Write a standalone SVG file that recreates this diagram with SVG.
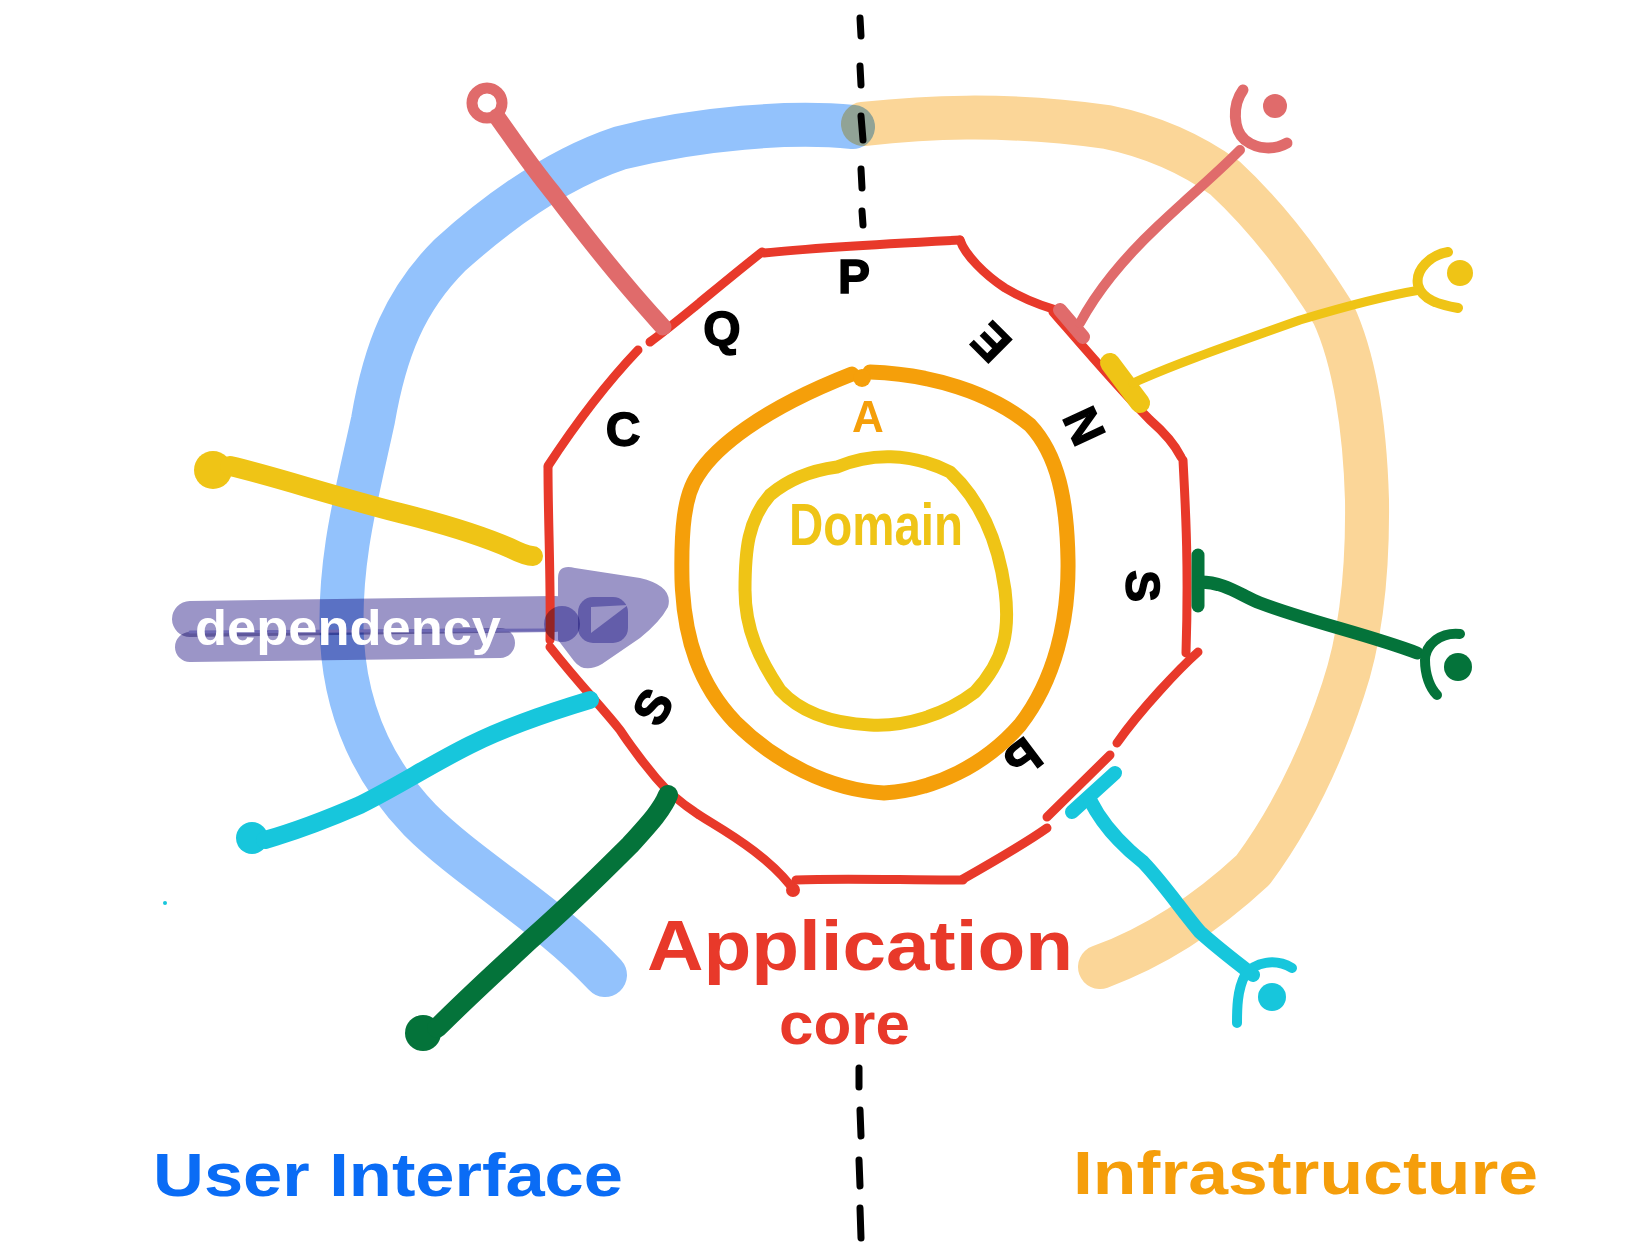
<svg xmlns="http://www.w3.org/2000/svg" width="1650" height="1258" viewBox="0 0 1650 1258">
<style>
.hl{fill:none;stroke-linecap:round;stroke-linejoin:round;mix-blend-mode:multiply}
.red{fill:none;stroke:#E8392A;stroke-width:9;stroke-linecap:round;stroke-linejoin:round}
.ln{fill:none;stroke-linecap:round;stroke-linejoin:round}
.dash{stroke:#000;stroke-width:7;stroke-linecap:round}
.port{font-family:"Liberation Sans","DejaVu Sans",sans-serif;font-weight:900;font-size:48px;fill:#000;text-anchor:middle;dominant-baseline:central;stroke:#000;stroke-width:1.5}
.hand{font-family:"Liberation Sans",Arial,sans-serif;font-weight:bold}
</style>
<rect x="0" y="0" width="1650" height="1258" fill="#fff"/>

<g id="user-interface-layer">
<path class="hl" stroke="#93C2FC" stroke-width="44" d="M853,127 C790,121 700,128 620,148 C560,168 500,210 450,255 C405,300 385,350 373,420 C358,490 338,560 342,640 C346,710 372,770 420,820 C470,870 550,915 605,975"/>
<text class="hand" x="153" y="1196" font-size="62" fill="#0A6CF5" textLength="470" lengthAdjust="spacingAndGlyphs">User Interface</text>
</g>

<g id="infrastructure-layer">
<path class="hl" stroke="#FBD698" stroke-width="44" d="M863,124 C920,118 1000,112 1107,127 C1160,138 1200,160 1225,178 C1265,215 1300,260 1333,313 C1355,360 1365,430 1367,500 C1368,580 1360,640 1343,690 C1320,760 1290,820 1253,870 C1210,910 1160,945 1100,967"/>
<text class="hand" x="1073" y="1194" font-size="62" fill="#F59E0B" textLength="465" lengthAdjust="spacingAndGlyphs">Infrastructure</text>
</g>

<g id="divider">
<line class="dash" x1="860" y1="18" x2="861" y2="36"/>
<line class="dash" x1="860" y1="66" x2="861" y2="85"/>
<line class="dash" x1="861" y1="116" x2="863" y2="140"/>
<line class="dash" x1="861" y1="169" x2="862" y2="188"/>
<line class="dash" x1="862" y1="211" x2="863" y2="225"/>
<line class="dash" x1="859" y1="1068" x2="859" y2="1087"/>
<line class="dash" x1="860" y1="1110" x2="861" y2="1136"/>
<line class="dash" x1="859" y1="1160" x2="860" y2="1186"/>
<line class="dash" x1="860" y1="1208" x2="861" y2="1238"/>
</g>

<g id="dependency-arrow">
<g style="mix-blend-mode:multiply">
<path class="hl" stroke="#9B95C7" stroke-width="36" d="M190,619 L555,614"/>
<path class="hl" stroke="#9B95C7" stroke-width="30" d="M190,647 L500,643"/>
<path fill="#9B95C7" d="M558,578 Q558,564 575,568 L640,578 Q674,586 668,607 Q660,622 640,638 L602,664 Q584,674 574,661 L558,640 Z"/>
</g>
<line x1="190" y1="632" x2="548" y2="630" stroke="#6E69B4" stroke-width="3" stroke-linecap="round"/>
<text class="hand" x="195" y="645" font-size="50" fill="#fff" textLength="306" lengthAdjust="spacingAndGlyphs">dependency</text>
</g>

<g id="application-core">
<path class="red" d="M764,253 C820,247 900,243 960,240"/>
<path class="red" stroke-width="13" d="M960,240 C965,255 985,275 1005,288 C1025,300 1040,305 1053,309"/>
<path class="red" d="M1053,312 C1080,343 1120,390 1150,420 C1165,433 1175,445 1181,457"/>
<path class="red" stroke-width="13" d="M1183,460 C1185,500 1189,560 1186,653"/>
<path class="red" d="M1198,652 C1180,668 1140,710 1117,743"/>
<path class="red" d="M1110,755 L1047,817"/>
<path class="red" d="M1047,828 C1030,840 1000,858 963,879"/>
<path class="red" d="M963,880 C900,880 840,878 796,880"/>
<circle cx="793" cy="890" r="7" fill="#E8392A"/>
<path class="red" d="M790,885 C770,860 740,840 712,823 C690,810 670,795 656,778 C645,765 630,745 620,730 C600,705 580,685 550,647"/>
<path class="red" d="M550,640 C551,580 548,520 548,468"/>
<path class="red" d="M548,466 C565,440 600,390 638,350"/>
<path class="red" d="M650,342 C680,320 720,285 762,252"/>
<text class="hand" x="647" y="970" font-size="70" fill="#E8392A" textLength="426" lengthAdjust="spacingAndGlyphs">Application</text>
<text class="hand" x="779" y="1044" font-size="60" fill="#E8392A" textLength="131" lengthAdjust="spacingAndGlyphs">core</text>
</g>

<g id="dependency-marker">
<circle cx="562" cy="624" r="18" fill="#A39FDA" style="mix-blend-mode:multiply"/>
<rect x="578" y="597" width="50" height="46" rx="15" fill="#A39FDA" style="mix-blend-mode:multiply"/>
<path d="M591,607 L628,605 L591,633 Z" fill="#9B95C7"/>
</g>

<g id="ports">
<text class="port" x="854" y="276">P</text>
<text class="port" x="722" y="328">Q</text>
<text class="port" x="623" y="429">C</text>
<text class="port" transform="translate(653,707) rotate(-60)">S</text>
<text class="port" transform="translate(991,342) rotate(-135)">E</text>
<text class="port" transform="translate(1084,426) rotate(65)">N</text>
<text class="port" transform="translate(1142,586) rotate(90)">S</text>
<text class="port" transform="translate(1023,758) rotate(-37) scale(-1,1)">P</text>
</g>

<g id="application-ring">
<path class="ln" stroke="#F59F0A" stroke-width="15" d="M870,372 C930,374 990,392 1030,425 C1058,455 1067,500 1068,560 C1069,620 1055,680 1020,725 C985,765 935,790 884,793 C830,790 775,762 735,722 C700,685 684,640 682,580 C681,530 684,495 698,475 C715,448 760,410 852,374"/>
<circle cx="862" cy="378" r="9" fill="#F59F0A"/>
<text class="hand" x="868" y="432" font-size="44" fill="#F59F0A" text-anchor="middle">A</text>
</g>

<g id="domain">
<path class="ln" stroke="#EFC416" stroke-width="13" d="M837,467 C870,453 910,452 950,472 C980,500 998,540 1005,590 C1010,630 1005,660 975,692 C945,715 905,727 870,725 C830,723 800,712 780,690 C760,660 745,630 745,590 C745,550 748,520 770,495 C790,478 815,470 837,467"/>
<text class="hand" x="789" y="545" font-size="60" fill="#EFC416" textLength="174" lengthAdjust="spacingAndGlyphs">Domain</text>
</g>

<g id="connectors">
<g id="conn-q-left">
<circle cx="487" cy="103" r="15" fill="none" stroke="#E06B6B" stroke-width="11"/>
<path class="ln" stroke="#E06B6B" stroke-width="17" d="M497,117 C510,135 530,165 553,193 C575,222 600,255 633,293 C645,307 655,318 663,327"/>
</g>
<g id="conn-yellow-left">
<circle cx="213" cy="470" r="19" fill="#EFC416"/>
<path class="ln" stroke="#EFC416" stroke-width="20" d="M230,466 C270,475 330,495 400,513 C440,523 480,535 510,548 C520,553 528,556 533,556"/>
</g>
<g id="conn-cyan-left">
<circle cx="252" cy="838" r="16" fill="#17C6DC"/>
<path class="ln" stroke="#17C6DC" stroke-width="18" d="M265,840 C300,830 330,818 360,805 C400,785 430,765 470,745 C510,725 550,712 590,700"/>
</g>
<g id="conn-green-left">
<circle cx="423" cy="1033" r="18" fill="#04733A"/>
<path class="ln" stroke="#04733A" stroke-width="20" d="M437,1028 C470,995 500,968 530,940 C570,905 600,875 630,845 C650,823 662,810 668,795"/>
</g>
<g id="conn-pink-right">
<path class="ln" stroke="#E06B6B" stroke-width="14" d="M1060,310 L1083,337"/>
<path class="ln" stroke="#E06B6B" stroke-width="10" d="M1080,323 C1095,295 1120,262 1157,227 C1185,200 1210,180 1240,150"/>
<path class="ln" stroke="#E06B6B" stroke-width="11" d="M1243,90 C1232,105 1233,130 1245,140 C1258,150 1275,150 1287,143"/>
<circle cx="1275" cy="106" r="12" fill="#E06B6B"/>
</g>
<g id="conn-yellow-right">
<path class="ln" stroke="#EFC416" stroke-width="20" d="M1110,363 L1140,403"/>
<path class="ln" stroke="#EFC416" stroke-width="9" d="M1133,383 C1180,362 1230,345 1300,320 C1350,305 1390,295 1420,290"/>
<path class="ln" stroke="#EFC416" stroke-width="10" d="M1448,252 C1430,255 1415,270 1418,285 C1422,300 1440,305 1458,308"/>
<circle cx="1460" cy="273" r="13" fill="#EFC416"/>
</g>
<g id="conn-green-right">
<path class="ln" stroke="#04733A" stroke-width="13" d="M1198,555 L1198,606"/>
<path class="ln" stroke="#04733A" stroke-width="13" d="M1200,582 C1225,582 1240,595 1260,603 C1310,622 1370,635 1417,653"/>
<path class="ln" stroke="#04733A" stroke-width="10" d="M1460,634 C1440,632 1425,645 1425,660 C1425,675 1430,688 1437,695"/>
<circle cx="1458" cy="667" r="14" fill="#04733A"/>
</g>
<g id="conn-cyan-right">
<path class="ln" stroke="#17C6DC" stroke-width="14" d="M1072,812 L1115,773"/>
<path class="ln" stroke="#17C6DC" stroke-width="14" d="M1090,800 C1100,820 1115,840 1143,862 C1165,885 1185,915 1200,932 C1220,950 1240,965 1253,975"/>
<path class="ln" stroke="#17C6DC" stroke-width="10" d="M1292,968 C1275,958 1255,962 1245,975 C1237,990 1237,1010 1237,1023"/>
<circle cx="1272" cy="997" r="14" fill="#17C6DC"/>
</g>
</g>
<circle cx="165" cy="903" r="2" fill="#17C6DC"/>
</svg>
